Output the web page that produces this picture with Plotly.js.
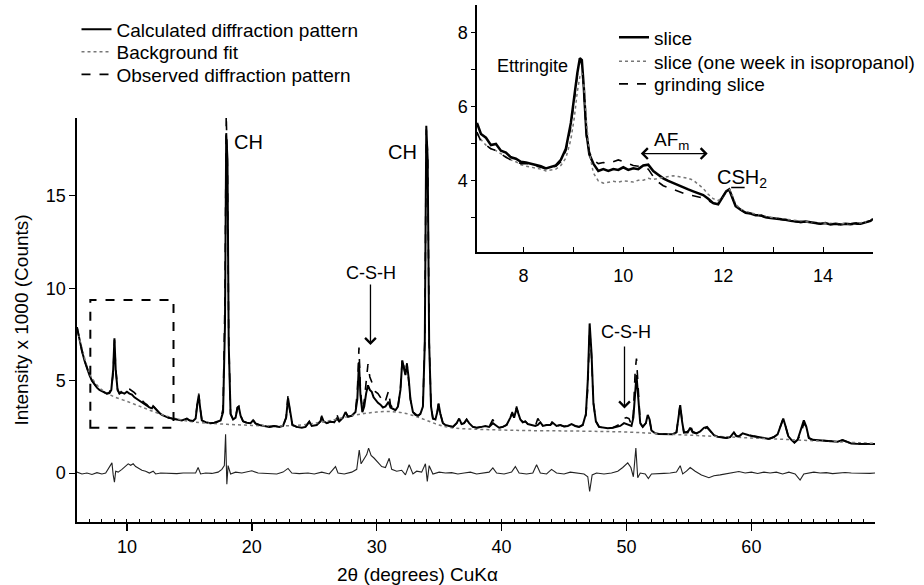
<!DOCTYPE html>
<html>
<head>
<meta charset="utf-8">
<script src="https://cdn.plot.ly/plotly-3.0.1.min.js"></script>
<style>html,body{margin:0;padding:0;background:#fff;overflow:hidden;width:924px;height:585px}#chart{width:924px;height:585px;overflow:hidden}</style>
</head>
<body>
<div id="chart"></div>
<script>
// ---- main pattern (2theta, intensity x1000) ----
const mainX = [
6.0,6.2,6.4,6.6,6.8,7.0,7.2,7.4,7.6,7.8,
8.0,8.2,8.4,8.6,8.75,8.9,9.0,9.1,9.25,9.4,
9.6,9.8,10.0,10.2,10.4,10.6,10.8,11.0,11.2,11.4,
11.6,11.8,12.0,12.1,12.2,12.4,12.6,12.8,13.0,13.3,
13.6,14.0,14.4,14.8,15.0,15.3,15.5,15.65,15.75,15.85,
16.0,16.3,16.7,17.0,17.3,17.5,17.7,17.85,17.95,18.05,
18.15,18.3,18.5,18.7,18.85,18.95,19.1,19.3,19.6,19.9,
20.1,20.3,20.6,21.0,21.4,21.8,22.2,22.5,22.75,22.9,
23.05,23.25,23.6,24.0,24.3,24.6,24.8,25.2,25.5,25.6,
25.75,26.0,26.3,26.6,26.8,27.0,27.3,27.5,27.7,28.0,
28.3,28.45,28.58,28.7,28.85,29.0,29.15,29.3,29.45,29.6,
29.75,29.9,30.1,30.3,30.5,30.7,30.95,31.1,31.3,31.5,
31.7,31.9,32.05,32.2,32.3,32.42,32.55,32.7,32.9,33.1,
33.3,33.5,33.7,33.85,33.97,34.08,34.2,34.35,34.5,34.7,
34.85,34.95,35.1,35.3,35.5,35.8,36.1,36.4,36.6,36.8,
37.0,37.2,37.4,37.7,38.0,38.4,38.7,39.0,39.3,39.5,
39.8,40.1,40.4,40.7,40.85,41.0,41.2,41.35,41.5,41.7,
41.9,42.1,42.4,42.7,42.9,43.1,43.3,43.6,43.9,44.1,
44.4,44.7,45.0,45.3,45.6,45.9,46.2,46.5,46.75,46.9,
47.05,47.2,47.35,47.55,47.8,48.1,48.5,48.9,49.2,49.5,
49.8,50.0,50.2,50.4,50.55,50.7,50.8,50.95,51.1,51.3,
51.55,51.7,51.85,52.0,52.3,52.6,53.0,53.4,53.7,54.0,
54.15,54.3,54.45,54.6,54.9,55.1,55.3,55.6,55.9,56.2,
56.45,56.7,57.0,57.3,57.6,58.0,58.3,58.6,58.8,59.0,
59.3,59.5,59.8,60.1,60.4,60.7,61.0,61.4,61.8,62.1,
62.35,62.55,62.75,62.95,63.2,63.45,63.7,63.95,64.2,64.4,
64.6,64.9,65.3,65.7,66.1,66.5,66.9,67.3,67.6,68.0,
68.4,68.8,69.2,69.6,69.9];

const calcY = [
7.9,7.2,6.6,6.1,5.65,5.3,5.0,4.8,4.62,4.5,
4.42,4.35,4.3,4.33,4.5,5.6,7.3,5.6,4.5,4.3,
4.35,4.3,4.4,4.3,4.25,4.1,4.0,3.9,3.8,3.72,
3.65,3.55,3.5,3.62,3.55,3.38,3.25,3.15,3.08,3.0,
2.95,2.88,2.85,2.95,2.85,2.82,2.95,3.8,4.2,3.6,
2.85,2.75,2.7,2.72,2.78,2.85,3.3,8.0,18.4,17.0,
7.0,3.2,2.9,3.0,3.55,3.6,3.1,2.8,2.72,2.7,
2.85,2.68,2.6,2.55,2.5,2.55,2.5,2.55,3.0,4.05,
3.3,2.6,2.5,2.45,2.5,2.78,2.55,2.6,2.8,3.05,
2.8,2.7,2.78,2.75,2.95,2.8,3.0,3.3,3.05,3.1,
3.3,4.0,6.0,4.2,3.3,3.6,4.3,4.75,4.5,4.4,
4.1,3.95,3.8,3.7,3.55,3.6,3.85,3.55,3.45,3.4,
3.6,4.5,6.1,5.6,5.3,5.9,5.2,4.0,3.3,3.15,
3.1,3.2,3.6,7.0,18.8,17.0,7.0,3.6,2.95,2.9,
3.3,3.75,3.2,2.7,2.6,2.55,2.5,2.7,2.95,2.65,
2.7,2.9,2.7,2.5,2.45,2.5,2.55,2.5,2.7,2.6,
2.45,2.5,2.6,3.0,3.25,3.0,3.5,3.2,2.9,2.75,
2.8,2.65,2.6,2.55,2.6,2.75,2.55,2.6,2.6,2.72,
2.55,2.6,2.52,2.55,2.65,2.55,2.5,2.6,3.2,5.0,
8.1,6.5,3.8,2.8,2.5,2.45,2.42,2.45,2.5,2.55,
2.7,2.65,2.6,2.55,3.0,4.8,5.3,4.0,2.7,2.5,
2.7,3.15,2.9,2.3,2.15,2.12,2.1,2.08,2.1,2.2,
3.0,3.68,2.8,2.2,2.2,2.45,2.2,2.15,2.25,2.45,
2.5,2.3,2.05,1.97,1.95,1.9,1.95,2.2,2.0,1.97,
2.15,2.1,2.05,2.0,1.98,1.95,1.9,1.85,1.95,2.1,
2.6,2.95,2.5,2.0,1.8,1.65,1.8,2.3,2.85,2.5,
1.9,1.8,1.78,1.77,1.75,1.72,1.7,1.78,1.7,1.6,
1.58,1.57,1.56,1.58,1.57];

const obsY = [
7.9,7.2,6.6,6.1,5.65,5.3,5.0,4.8,4.62,4.5,
4.42,4.35,4.3,4.38,4.6,5.4,7.2,5.7,4.55,4.3,
4.45,4.45,4.6,4.55,4.45,4.35,4.2,4.05,3.9,3.8,
3.7,3.55,3.55,3.72,3.55,3.38,3.25,3.15,3.08,3.0,
2.95,2.88,2.85,2.95,2.85,2.82,2.95,3.9,4.3,3.6,
2.85,2.75,2.7,2.72,2.78,2.9,3.5,9.5,19.4,16.5,
7.4,3.2,2.9,3.0,3.55,3.6,3.1,2.8,2.72,2.7,
2.9,2.68,2.6,2.55,2.5,2.55,2.5,2.55,3.0,4.2,
3.3,2.6,2.5,2.45,2.5,2.78,2.55,2.6,2.8,3.1,
2.8,2.7,2.78,2.75,3.2,2.8,3.0,3.3,3.05,3.1,
3.4,4.4,6.8,4.5,3.4,3.9,5.0,5.9,5.2,4.9,
4.6,4.4,4.3,4.1,3.8,3.9,4.45,3.7,3.5,3.45,
3.6,4.5,6.2,5.6,5.3,5.95,5.2,4.0,3.3,3.2,
3.1,3.2,3.7,7.2,18.6,17.3,7.2,3.6,2.95,2.9,
3.3,3.75,3.2,2.7,2.6,2.55,2.5,2.7,2.95,2.65,
2.7,2.9,2.7,2.5,2.45,2.5,2.55,2.5,2.9,2.6,
2.45,2.5,2.6,3.0,3.3,3.0,3.6,3.2,2.9,2.75,
2.8,2.65,2.6,2.55,2.95,2.75,2.55,2.6,2.6,2.85,
2.55,2.6,2.52,2.55,2.65,2.55,2.5,2.6,3.1,4.6,
7.8,6.3,3.8,2.8,2.5,2.45,2.42,2.45,2.55,2.65,
2.95,3.0,2.95,2.6,3.2,5.6,6.2,4.2,2.7,2.5,
2.7,3.0,2.85,2.3,2.15,2.12,2.1,2.08,2.1,2.2,
3.1,3.75,2.8,2.2,2.25,2.6,2.25,2.15,2.25,2.4,
2.45,2.25,2.05,1.97,1.95,1.9,1.95,2.2,2.0,2.0,
2.15,2.1,2.05,2.0,1.98,1.95,1.9,1.85,1.95,2.1,
2.6,2.95,2.5,2.0,1.8,1.65,1.8,2.1,2.7,2.5,
1.9,1.8,1.78,1.77,1.75,1.72,1.7,1.78,1.7,1.6,
1.58,1.57,1.56,1.58,1.57];

const bgX = [6,6.5,7,7.5,8,8.5,9,10,11,12,13,14,15,16,18,20,22,24,25,26,
             27,28,29,30,31,32,33,34,35,36,38,40,42,45,48,50,55,60,65,70];
const bgY = [7.85,6.5,5.4,4.85,4.5,4.28,4.12,3.88,3.62,3.36,3.12,2.93,2.8,2.72,2.64,2.58,2.55,2.6,2.7,2.8,
             2.95,3.1,3.22,3.3,3.33,3.27,3.1,2.85,2.6,2.45,2.37,2.33,2.3,2.28,2.25,2.22,2.05,1.9,1.75,1.6];

const diffX = [6.0,6.4,6.8,7.2,7.6,8.0,8.3,8.6,8.8,8.9,9.0,9.1,9.3,9.6,9.9,10.1,10.3,10.5,10.7,10.9,
11.2,11.5,11.8,12.1,12.3,12.7,13.1,13.5,14.0,14.5,15.0,15.5,15.7,15.9,16.3,16.8,17.3,17.6,17.8,17.9,
18.0,18.1,18.3,18.7,19.2,19.6,20.0,20.5,21.0,21.5,22.0,22.5,22.9,23.2,23.8,24.5,25.0,25.6,26.2,26.7,
26.9,27.4,28.0,28.4,28.6,28.75,28.95,29.2,29.35,29.55,29.8,30.1,30.4,30.7,31.0,31.2,31.6,32.0,32.3,32.6,
32.9,33.2,33.6,33.9,34.05,34.2,34.5,35.0,35.5,36.0,36.5,37.0,37.5,38.0,38.5,39.0,39.3,39.6,40.2,40.8,
41.1,41.4,42.0,42.5,42.8,43.1,43.6,44.0,44.4,45.0,45.5,46.0,46.6,46.9,47.05,47.25,47.6,48.2,48.8,49.3,
49.7,50.1,50.35,50.55,50.75,50.9,51.1,51.5,51.75,52.0,52.5,53.0,53.5,54.0,54.3,54.5,54.8,55.1,55.5,56.0,
56.6,57.0,57.5,58.0,58.5,59.0,59.5,60.0,60.5,61.0,61.5,62.0,62.5,63.0,63.5,63.9,64.2,64.6,65.0,65.5,
66.0,66.5,67.0,67.5,68.0,68.5,69.0,69.5,69.9];
const diffY = [0.05,-0.05,0.0,-0.08,0.02,-0.05,0.0,0.3,0.55,-0.1,-0.5,0.1,0.05,0.2,0.35,0.5,0.42,0.5,0.35,0.25,
0.15,0.1,0.0,0.1,-0.05,0.0,-0.02,0.0,-0.03,0.0,-0.02,0.0,0.3,-0.05,0.0,-0.02,0.05,0.2,0.4,2.1,
-0.6,0.4,-0.05,0.05,0.0,0.05,0.12,0.0,-0.02,0.0,-0.05,0.05,0.25,0.0,-0.03,0.0,-0.05,0.05,-0.05,0.35,
0.0,-0.05,0.05,0.2,1.25,0.5,0.7,1.0,1.35,0.95,0.8,0.6,0.35,0.3,0.8,0.2,0.1,0.15,-0.1,0.45,
-0.05,0.1,0.05,0.5,-0.45,0.4,-0.05,0.05,0.0,0.02,-0.05,0.0,0.05,-0.05,0.0,0.05,0.28,0.0,-0.05,0.05,
0.35,0.0,-0.05,0.0,0.45,0.0,-0.05,0.2,0.0,-0.05,0.05,0.0,-0.05,-0.2,-1.0,-0.1,0.0,-0.05,0.0,0.1,
0.3,0.55,0.3,-0.2,1.35,-0.25,0.0,-0.05,-0.3,-0.05,-0.05,-0.02,0.0,0.05,0.4,-0.05,0.1,0.3,0.1,-0.1,
-0.25,-0.15,-0.1,-0.05,0.0,0.08,0.0,0.05,-0.02,0.05,0.0,0.05,-0.05,0.05,-0.05,-0.38,-0.05,0.0,0.05,0.0,
0.02,-0.03,0.0,0.03,0.0,-0.02,0.0,-0.02,0.0];

// ---- inset (7-15 deg) ----
const insetX = [
7.07,7.15,7.25,7.35,7.45,7.55,7.65,7.75,7.85,7.95,
8.05,8.15,8.25,8.35,8.45,8.55,8.65,8.75,8.85,8.95,
9.02,9.08,9.13,9.17,9.21,9.26,9.32,9.4,9.5,9.6,
9.7,9.8,9.9,10.0,10.1,10.2,10.3,10.4,10.5,10.6,
10.7,10.8,10.9,11.0,11.1,11.2,11.3,11.4,11.5,11.6,
11.7,11.8,11.9,12.0,12.06,12.12,12.18,12.25,12.35,12.45,
12.55,12.65,12.75,12.85,12.95,13.05,13.15,13.25,13.35,13.45,
13.55,13.65,13.75,13.85,13.95,14.05,14.15,14.25,14.35,14.45,
14.55,14.65,14.75,14.85,14.95,15.0];
const sliceY = [
5.55,5.25,5.15,4.95,4.98,4.8,4.75,4.62,4.58,4.5,
4.48,4.45,4.42,4.38,4.32,4.35,4.4,4.55,4.85,5.55,
6.3,6.9,7.3,7.25,6.5,5.3,4.7,4.45,4.25,4.3,
4.25,4.3,4.28,4.35,4.28,4.32,4.3,4.4,4.42,4.25,
4.15,4.05,3.98,3.92,3.85,3.8,3.75,3.7,3.65,3.6,
3.5,3.38,3.35,3.55,3.7,3.75,3.55,3.3,3.2,3.12,
3.1,3.05,3.05,3.0,2.98,2.97,2.95,2.93,2.9,2.88,
2.87,2.88,2.85,2.84,2.82,2.84,2.8,2.82,2.8,2.82,
2.81,2.83,2.82,2.85,2.9,2.95];
const isoY = [
5.25,5.1,4.95,4.85,4.8,4.72,4.65,4.55,4.5,4.42,
4.38,4.36,4.33,4.3,4.25,4.28,4.3,4.4,4.6,5.1,
5.7,6.4,6.8,6.9,6.6,5.6,4.75,4.2,3.98,3.92,
3.95,3.97,3.95,3.98,3.97,3.95,4.0,4.0,4.05,4.02,
4.05,4.08,4.1,4.12,4.1,4.08,4.05,4.0,3.9,3.78,
3.62,3.5,3.45,3.55,3.7,3.78,3.6,3.35,3.22,3.15,
3.12,3.08,3.05,3.02,3.0,2.98,2.96,2.95,2.92,2.9,
2.88,2.87,2.86,2.85,2.84,2.83,2.82,2.81,2.82,2.83,
2.8,2.82,2.84,2.86,2.9,2.93];
const grindY = [
5.3,5.05,4.95,4.85,4.8,4.7,4.62,4.55,4.5,4.45,
4.45,4.42,4.4,4.35,4.3,4.33,4.38,4.5,4.8,5.45,
6.2,6.85,7.2,7.2,6.4,5.2,4.75,4.55,4.45,4.48,
4.45,4.5,4.55,4.5,4.45,4.4,4.38,4.35,4.3,4.1,
3.95,3.85,3.8,3.75,3.7,3.65,3.6,3.58,3.55,3.52,
3.45,3.38,3.35,3.55,3.7,3.75,3.55,3.3,3.2,3.12,
3.1,3.06,3.04,3.0,2.98,2.96,2.95,2.93,2.9,2.88,
2.86,2.87,2.85,2.84,2.82,2.83,2.81,2.82,2.8,2.81,
2.82,2.83,2.83,2.86,2.9,2.95];

const mainTicksX = [10,20,30,40,50,60];
const mainTicksY = [0,5,10,15];
const insetTicksX = [8,10,12,14];
const insetTicksY = [4,6,8];

const FONT = 'Liberation Sans, Arial, Helvetica, sans-serif';

const traces = [
  {x: mainX, y: calcY, xaxis:'x', yaxis:'y', mode:'lines', name:'Calculated diffraction pattern',
   line:{color:'#000', width:2}, legend:'legend'},
  {x: bgX, y: bgY, xaxis:'x', yaxis:'y', mode:'lines', name:'Background fit',
   line:{color:'#777', width:1.5, dash:'dot', shape:'spline'}, legend:'legend2'},
  {x: mainX, y: obsY, xaxis:'x', yaxis:'y', mode:'lines', name:'Observed diffraction pattern',
   line:{color:'#000', width:1.6, dash:'dash'}, legend:'legend3'},
  {x: diffX, y: diffY, xaxis:'x', yaxis:'y', mode:'lines', name:'Difference', showlegend:false,
   line:{color:'#222', width:1.1}},
  {x: insetX, y: sliceY, xaxis:'x2', yaxis:'y2', mode:'lines', name:'slice',
   line:{color:'#000', width:2.5}, legend:'legend4'},
  {x: insetX, y: isoY, xaxis:'x2', yaxis:'y2', mode:'lines', name:'slice (one week in isopropanol)',
   line:{color:'#777', width:1.5, dash:'dot'}, legend:'legend5'},
  {x: insetX, y: grindY, xaxis:'x2', yaxis:'y2', mode:'lines', name:'grinding slice',
   line:{color:'#000', width:1.6, dash:'dash'}, legend:'legend6'}
];

function leg(x, y, size) {
  return {x:x, y:y, xanchor:'left', yanchor:'middle', bgcolor:'rgba(0,0,0,0)',
          font:{size:size}, tracegroupgap:0, itemwidth:30};
}

const layout = {
  width: 924, height: 585,
  margin: {l:0, r:0, t:0, b:0},
  paper_bgcolor:'#fff', plot_bgcolor:'rgba(0,0,0,0)',
  font: {family: FONT, size: 18, color:'#000'},
  xaxis: {domain:[0.0833,0.947], range:[6,69.9], anchor:'y', showgrid:false, zeroline:false,
    showline:true, linecolor:'#000', linewidth:2, ticks:'outside', ticklen:7, tickwidth:1.5, tickcolor:'#000',
    tickvals: mainTicksX, tickfont:{size:18},
    minor:{dtick:1, tick0:0, ticks:'inside', ticklen:3, tickwidth:1, tickcolor:'#000', showgrid:false}},
  yaxis: {domain:[0.1077,0.7983], range:[-2.65,19.22], anchor:'x', showgrid:false, zeroline:false,
    showline:true, linecolor:'#000', linewidth:1.5, ticks:'outside', ticklen:6, tickwidth:1, tickcolor:'#000',
    tickvals: mainTicksY, tickfont:{size:18},
    title:{text:'Intensity x 1000 (Counts)', font:{size:19}, standoff:12}},
  xaxis2: {domain:[0.5162,0.9448], range:[7.07,15], anchor:'y2', showgrid:false, zeroline:false,
    showline:true, linecolor:'#000', linewidth:2, ticks:'inside', ticklen:5, tickwidth:1, tickcolor:'#000',
    tickvals: insetTicksX, tickfont:{size:18}, ticklabelstandoff:6,
    minor:{dtick:1, tick0:0, ticks:'inside', ticklen:5, tickwidth:1, tickcolor:'#000', showgrid:false}},
  yaxis2: {domain:[0.5687,0.9915], range:[2.05,8.74], anchor:'x2', showgrid:false, zeroline:false,
    showline:true, linecolor:'#000', linewidth:1.5, ticks:'outside', ticklen:4, tickwidth:1, tickcolor:'#000',
    tickvals: insetTicksY, tickfont:{size:18},
    minor:{dtick:1, tick0:0, ticks:'outside', ticklen:4, tickwidth:1, tickcolor:'#000', showgrid:false}},
  legend:  leg(0.0828, 0.9496, 19),
  legend2: leg(0.0828, 0.9111, 19),
  legend3: leg(0.0828, 0.8726, 19),
  legend4: leg(0.6645, 0.9359, 19),
  legend5: leg(0.6645, 0.8949, 19),
  legend6: leg(0.6645, 0.8564, 19),
  shapes: [
    {type:'rect', xref:'x', yref:'y', x0:7.07, x1:13.73, y0:2.45, y1:9.37,
     line:{color:'#000', width:2, dash:'dash'}},
    {type:'line', xref:'x2', yref:'y2', x0:12.16, x1:12.43, y0:3.8, y1:3.8,
     line:{color:'#000', width:1.5}}
  ],
  annotations: [
    {xref:'paper', yref:'paper', x:0.4513, y:0.0171, text:'2θ (degrees) CuKα', showarrow:false,
     xanchor:'center', yanchor:'middle', font:{size:19}},
    {xref:'x', yref:'y', x:18.4, y:17.9, text:'CH', showarrow:false, xanchor:'left', yanchor:'middle', font:{size:20}},
    {xref:'x', yref:'y', x:33.4, y:17.4, text:'CH', showarrow:false, xanchor:'right', yanchor:'middle', font:{size:20}},
    {xref:'x', yref:'y', x:29.57, y:10.83, text:'C-S-H', showarrow:false, font:{size:18}},
    {xref:'x', yref:'y', x:29.5, y:6.93, ax:29.5, ay:10.29, axref:'x', ayref:'y', text:'',
     showarrow:true, arrowhead:4, arrowsize:1.6, arrowwidth:1.3, arrowcolor:'#000'},
    {xref:'x', yref:'y', x:49.98, y:7.61, text:'C-S-H', showarrow:false, font:{size:18}},
    {xref:'x', yref:'y', x:49.84, y:3.5, ax:49.84, ay:6.93, axref:'x', ayref:'y', text:'',
     showarrow:true, arrowhead:4, arrowsize:1.6, arrowwidth:1.3, arrowcolor:'#000'},
    {xref:'x2', yref:'y2', x:8.19, y:7.09, text:'Ettringite', showarrow:false, font:{size:18}},
    {xref:'x2', yref:'y2', x:10.96, y:5.05, text:'AF<sub>m</sub>', showarrow:false, font:{size:19}},
    {xref:'x2', yref:'y2', x:11.69, y:4.72, ax:10.32, ay:4.72, axref:'x2', ayref:'y2', text:'',
     showarrow:true, arrowhead:4, startarrowhead:4, arrowside:'end+start', arrowsize:1.6, startarrowsize:1.6,
     arrowwidth:1.3, arrowcolor:'#000'},
    {xref:'x2', yref:'y2', x:12.38, y:4.05, text:'CSH<sub>2</sub>', showarrow:false, font:{size:20}}
  ]
};

Plotly.newPlot('chart', traces, layout, {displayModeBar:false, staticPlot:true});
</script>
</body>
</html>
